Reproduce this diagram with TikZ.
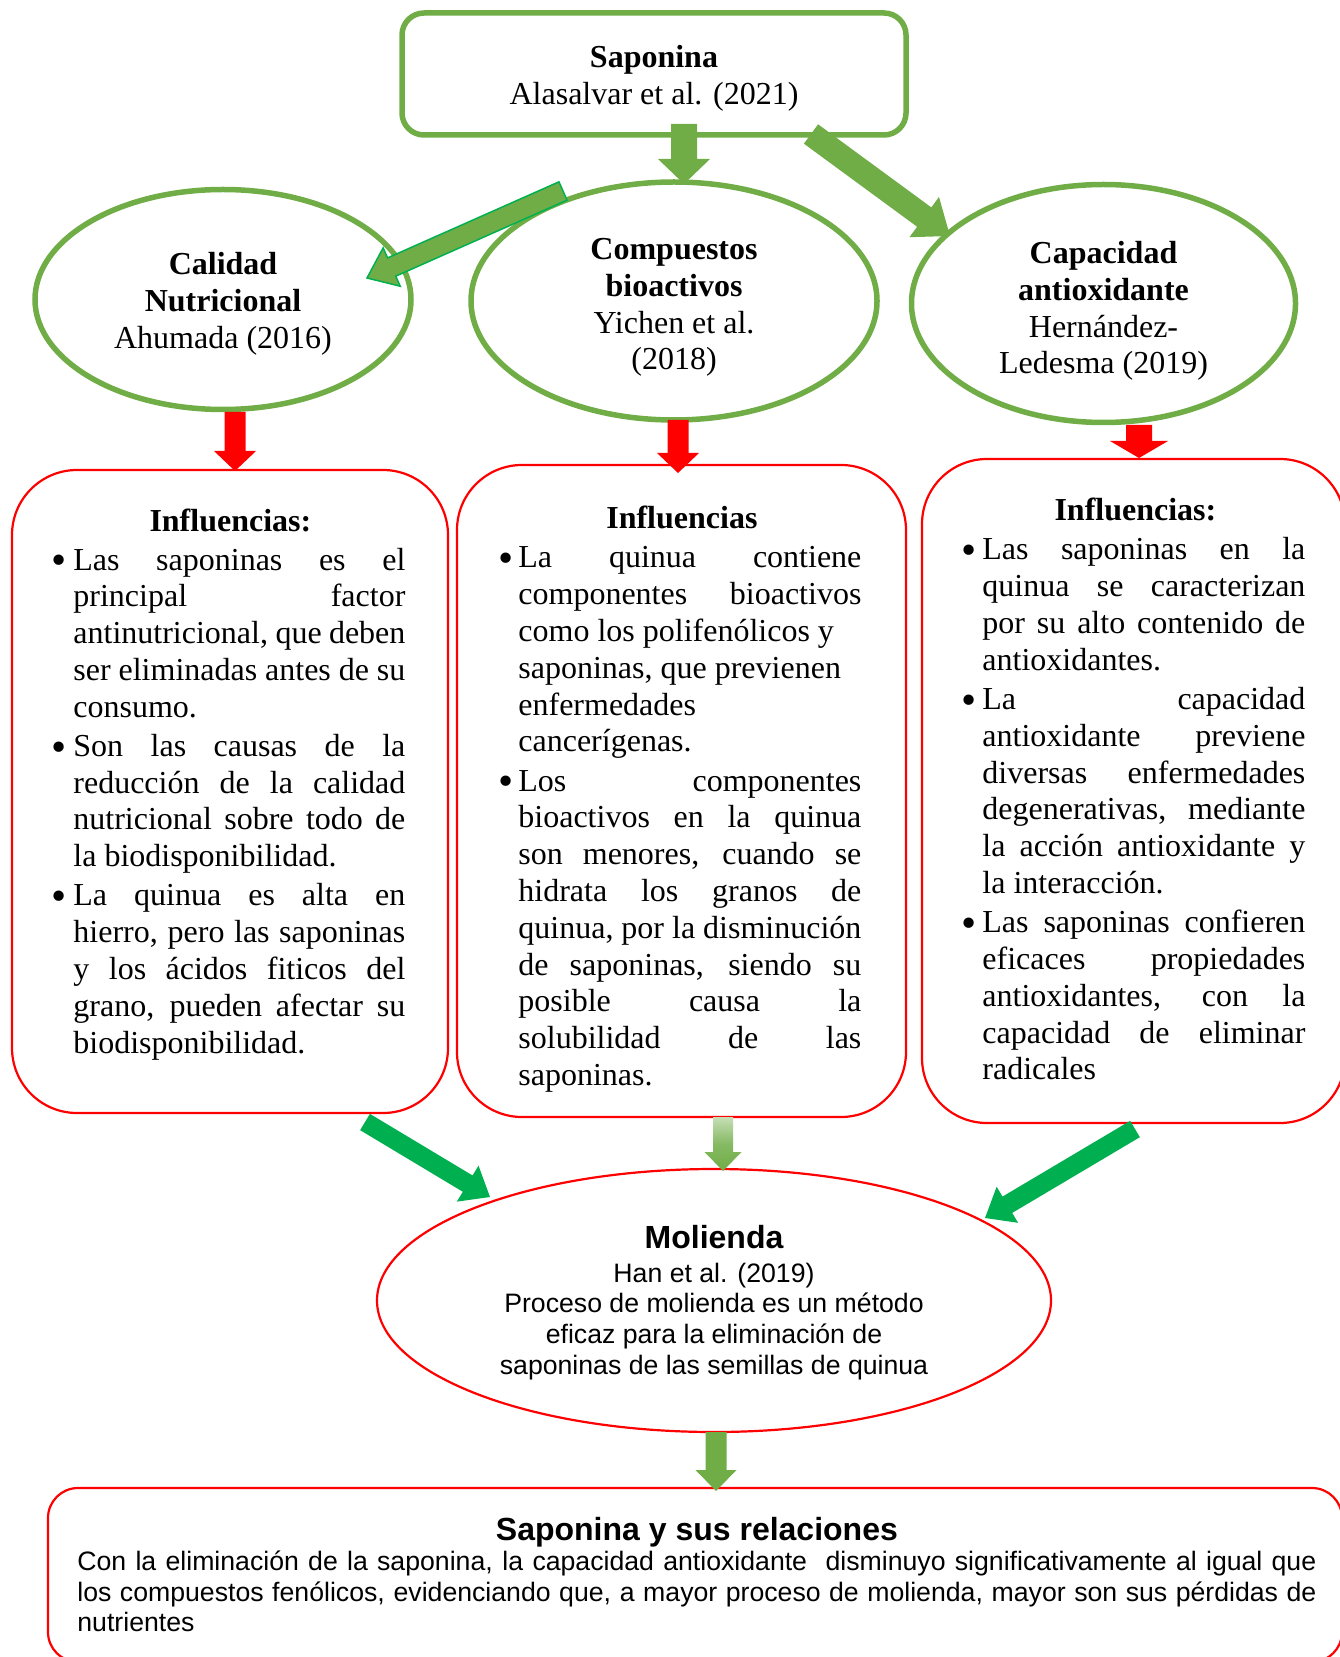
\documentclass[tikz,border=0pt]{standalone}
\usepackage{fontspec}
\setmainfont{Liberation Serif}
\newfontfamily\arialf{Liberation Sans}
\usetikzlibrary{calc,shapes.geometric}
\definecolor{gA}{HTML}{70AD47}
\definecolor{gB}{HTML}{00B050}
\definecolor{rA}{HTML}{FF0000}
\newcommand\tnr{\fontsize{16pt}{18.4pt}\selectfont}
\newcommand\arb{\arialf\fontsize{13.33pt}{15.33pt}\selectfont}
\newdimen\bxw \newdimen\bxh
\newcommand\bigbul{\raisebox{-0.15em}{\scalebox{1.35}{\textbullet}}}
\newcommand\bxhead[1]{\hbox to\bxw{\hfil\textbf{#1}\hfil}\vskip1.1pt}
\newcommand\bxbul[1]{\hbox to\bxw{\hbox to\bxh{\hskip-2pt\bigbul\hfil}#1}}
\newcommand\bxjust[1]{\hbox to\bxw{\hskip\bxh\relax #1}}
\newcommand\bxrag[1]{\hbox to\bxw{\hskip\bxh\relax #1\hfil}}
\newcommand\bxsep{\vskip1.15pt}
% block arrow: #1 style, #2 from, #3 to, #4 half shaft, #5 half head, #6 head length
\newcommand\blockarrow[6]{%
  \coordinate (ba-h) at ($(#3)!#6!(#2)$);
  \path[#1] ($(#2)!#4!90:(#3)$) -- ($(ba-h)!#4!-90:(#2)$) -- ($(ba-h)!#5!-90:(#2)$)
    -- (#3) -- ($(ba-h)!#5!90:(#2)$) -- ($(ba-h)!#4!90:(#2)$) -- ($(#2)!#4!-90:(#3)$) -- cycle;
}
\tikzset{
  greenshape/.style={draw=gA, line width=2.75pt, inner sep=0pt},
  shapetext/.style={inner sep=0pt, align=center, font=\tnr},
  redbox/.style={draw=rA, line width=1.1pt, rounded corners=32.5pt, inner sep=0pt},
  boxtext/.style={anchor=base west, inner sep=0pt},
  arrG/.style={fill=gA},
  arrB/.style={fill=gB},
  arrR/.style={fill=rA},
  arrO/.style={fill=gA, draw=gB, line width=0.75pt, line join=miter},
  arrS/.style={top color=gA!40!white, bottom color=gA, middle color=gA!85!white},
}
\begin{document}
\begin{tikzpicture}[x=0.5pt,y=-0.5pt]
\useasboundingbox (0,0) rectangle (1339,1657);

% top box
\node[greenshape, rounded corners=11pt, minimum width=252pt, minimum height=61pt] (sap) at (654,74) {};
\node[shapetext] (sapt) at (654,78.5) {\textbf{Saponina}\\Alasalvar et al. (2021)};

% ellipses
\node[greenshape, ellipse, minimum width=188pt, minimum height=110pt] (cal) at (223,299.5) {};
\node[shapetext] (calt) at (223,304) {\textbf{Calidad}\\\textbf{Nutricional}\\Ahumada (2016)};
\node[greenshape, ellipse, minimum width=203pt, minimum height=119pt] (cmp) at (674,301) {};
\node[shapetext] (cmpt) at (674,307.5) {\textbf{Compuestos}\\\textbf{bioactivos}\\Yichen et al.\\(2018)};
\node[greenshape, ellipse, minimum width=192pt, minimum height=119pt] (cap) at (1103.5,303.5) {};
\node[shapetext] (capt) at (1103.5,311) {\textbf{Capacidad}\\\textbf{antioxidante}\\Hernández-\\Ledesma (2019)};

% red boxes
\node[redbox, minimum width=218pt, minimum height=321.5pt] (b1) at (230,791.5) {};
\node[redbox, minimum width=224.5pt, minimum height=326pt] (b2) at (681.5,791) {};
\node[redbox, minimum width=211.5pt, minimum height=332pt] (b3) at (1133.5,791) {};

\node[boxtext] (t1) at (55,531) {\bxw=175pt\bxh=9pt\vtop{\tnr
\bxhead{Influencias:}
\bxbul{Las saponinas es el}
\bxjust{principal factor}
\bxjust{antinutricional, que deben}
\bxjust{ser eliminadas antes de su}
\bxrag{consumo.}\bxsep
\bxbul{Son las causas de la}
\bxjust{reducción de la calidad}
\bxjust{nutricional sobre todo de}
\bxrag{la biodisponibilidad.}\bxsep
\bxbul{La quinua es alta en}
\bxjust{hierro, pero las saponinas}
\bxjust{y los ácidos fiticos del}
\bxjust{grano, pueden afectar su}
\bxrag{biodisponibilidad.}}};

\node[boxtext] (t2) at (502,529) {\bxw=179.5pt\bxh=8pt\vtop{\tnr
\bxhead{Influencias}
\bxbul{La quinua contiene}
\bxjust{componentes bioactivos}
\bxrag{como los polifenólicos y}
\bxrag{saponinas, que previenen}
\bxrag{enfermedades}
\bxrag{cancerígenas.}\bxsep
\bxbul{Los componentes}
\bxjust{bioactivos en la quinua}
\bxjust{son menores, cuando se}
\bxjust{hidrata los granos de}
\bxjust{quinua, por la disminución}
\bxjust{de saponinas, siendo su}
\bxjust{posible causa la}
\bxjust{solubilidad de las}
\bxrag{saponinas.}}};

\node[boxtext] (t3) at (965,521) {\bxw=170pt\bxh=8.5pt\vtop{\tnr
\bxhead{Influencias:}
\bxbul{Las saponinas en la}
\bxjust{quinua se caracterizan}
\bxjust{por su alto contenido de}
\bxrag{antioxidantes.}\bxsep
\bxbul{La capacidad}
\bxjust{antioxidante previene}
\bxjust{diversas enfermedades}
\bxjust{degenerativas, mediante}
\bxjust{la acción antioxidante y}
\bxrag{la interacción.}\bxsep
\bxbul{Las saponinas confieren}
\bxjust{eficaces propiedades}
\bxjust{antioxidantes, con la}
\bxjust{capacidad de eliminar}
\bxrag{radicales}}};

% Molienda
\node[ellipse, draw=rA, line width=1.1pt, minimum width=337pt, minimum height=131.5pt, inner sep=0pt] (mol) at (714,1300.5) {};
\node[inner sep=0pt, align=center, font=\arb] (molt) at (714,1302.5)
  {{\fontsize{16pt}{18.4pt}\selectfont\bfseries Molienda}\\[1.5pt]Han et al. (2019)\\Proceso de molienda es un método\\eficaz para la eliminación de\\saponinas de las semillas de quinua};

% bottom box
\node[draw=rA, line width=1.1pt, rounded corners=15pt, minimum width=647pt, minimum height=87pt, inner sep=0pt] (bot) at (695,1575) {};
\node[boxtext] (bt) at (77,1540) {\arb\vtop{\hsize=619.5pt
\hbox to\hsize{\hfil\fontsize{16pt}{18.4pt}\selectfont\bfseries Saponina y sus relaciones\hfil}
\hbox to\hsize{Con la eliminación de la saponina, la capacidad antioxidante \ disminuyo significativamente al igual que}
\hbox to\hsize{los compuestos fenólicos, evidenciando que, a mayor proceso de molienda, mayor son sus pérdidas de}
\hbox to\hsize{nutrientes\hfil}}};

% arrow end points
\coordinate (a1s) at (684,124);  \coordinate (a1e) at (684,184);
\coordinate (a2s) at (811,134);  \coordinate (a2e) at (950,236);
\coordinate (a3s) at (563,191);  \coordinate (a3e) at (367,278);
\coordinate (r1s) at (235,412);  \coordinate (r1e) at (235,471);
\coordinate (r2s) at (678,420);  \coordinate (r2e) at (678,473);
\coordinate (r3s) at (1139,425); \coordinate (r3e) at (1139,458);
\coordinate (g1s) at (365,1122); \coordinate (g1e) at (490,1197);
\coordinate (g2s) at (1135,1129);\coordinate (g2e) at (985,1218);
\coordinate (cs) at (723,1117);  \coordinate (ce) at (723,1171);
\coordinate (ms) at (716,1432);  \coordinate (me) at (716,1491);

\blockarrow{arrG}{a1s}{a1e}{6.5pt}{13pt}{12.5pt}
\blockarrow{arrG}{a2s}{a2e}{6pt}{12.5pt}{16pt}
\blockarrow{arrO}{a3s}{a3e}{5pt}{10.5pt}{13.5pt}
\blockarrow{arrR}{r1s}{r1e}{5.25pt}{10.5pt}{10pt}
\blockarrow{arrR}{r2s}{r2e}{5.25pt}{10.5pt}{10pt}
\blockarrow{arrR}{r3s}{r3e}{6.5pt}{14.5pt}{8.5pt}
\blockarrow{arrB}{g1s}{g1e}{4.75pt}{10.5pt}{13pt}
\blockarrow{arrB}{g2s}{g2e}{4.75pt}{10.5pt}{13pt}
\blockarrow{arrS}{cs}{ce}{5pt}{9.25pt}{9.5pt}
\blockarrow{arrG}{ms}{me}{5.25pt}{10.25pt}{10.5pt}
\end{tikzpicture}
\end{document}
